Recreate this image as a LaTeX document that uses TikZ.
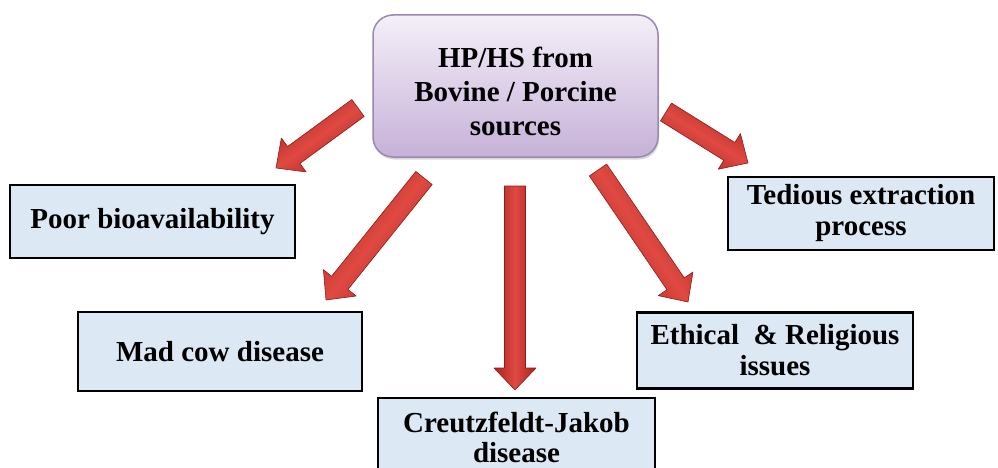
\documentclass[tikz,border=0pt]{standalone}
\usepackage{fontspec}
\setmainfont{Liberation Serif}
\usetikzlibrary{calc,shadows}
\definecolor{boxblue}{HTML}{DCE8F4}
\definecolor{lavtop}{HTML}{F4EFF8}
\definecolor{lavbot}{HTML}{C6B1D8}
\definecolor{lavedge}{HTML}{9A88AE}
\definecolor{arrowedge}{HTML}{8E1C18}
\definecolor{arrowdark}{HTML}{A8231E}
\definecolor{arrowmid}{HTML}{DF4A42}
\tikzset{
  probbox/.style={draw=black, line width=2.2pt, fill=boxblue, inner sep=0pt,
    font=\bfseries\fontsize{29}{31}\selectfont, align=center},
  srcbox/.style={draw=lavedge, line width=1.5pt, top color=lavtop, bottom color=lavbot,
    rounded corners=20pt, inner sep=0pt,
    drop shadow={shadow xshift=1pt, shadow yshift=-2.5pt, opacity=0.3}},
  srctext/.style={inner sep=0pt, align=center, font=\bfseries\fontsize{29}{34}\selectfont},
  redarrow/.style={draw=arrowedge, line width=0.6pt, left color=arrowdark,
    right color=arrowdark, middle color=arrowmid, line join=round}
}
\newcommand\blockarrow[3]{%
  \coordinate (hb) at ($(#2)!22pt!(#1)$);
  \path[redarrow, shading angle=#3]
    ($(#1)!10.5pt!90:(#2)$) -- ($(hb)!10.5pt!90:(#2)$) -- ($(hb)!21pt!90:(#2)$) -- (#2)
    -- ($(hb)!21pt!-90:(#2)$) -- ($(hb)!10.5pt!-90:(#2)$) -- ($(#1)!10.5pt!-90:(#2)$) -- cycle;
}
\begin{document}
\begin{tikzpicture}[x=1pt, y=-1pt]
  \useasboundingbox (0,0) rectangle (998,468);
  \fill[white] (0,0) rectangle (998,468);

  \node[srcbox, minimum width=285pt, minimum height=142pt] (src) at (515.5,86) {};
  \node[srctext] (srct) at (515.5,91) {HP/HS from\\Bovine / Porcine\\sources};

  \node[probbox, minimum width=285pt, minimum height=73pt] (poor) at (152.5,221.5)
    {Poor bioavailability};
  \node[probbox, minimum width=266pt, minimum height=73pt] (ted) at (861,213.5)
    {Tedious extraction\\process};
  \node[probbox, minimum width=284pt, minimum height=79pt] (mad) at (220,351.5)
    {Mad cow disease};
  \node[probbox, minimum width=276pt, minimum height=76pt] (eth) at (775,350.5)
    {Ethical\ \ \& Religious\\issues};
  \node[probbox, minimum width=277pt, minimum height=78pt,
        font=\bfseries\fontsize{29}{30}\selectfont] (cjd) at (516.5,437)
    {Creutzfeldt-Jakob\\disease};

  \coordinate (a1s) at (358,108);  \coordinate (a1e) at (276,168);
  \coordinate (a2s) at (424,178);  \coordinate (a2e) at (326,300);
  \coordinate (a3s) at (515,186);  \coordinate (a3e) at (515,390);
  \coordinate (a4s) at (598,170);  \coordinate (a4e) at (688,302);
  \coordinate (a5s) at (666,112);  \coordinate (a5e) at (748,163);

  \blockarrow{a1s}{a1e}{216.2}
  \blockarrow{a2s}{a2e}{231.2}
  \blockarrow{a3s}{a3e}{-90}
  \blockarrow{a4s}{a4e}{-55.7}
  \blockarrow{a5s}{a5e}{-31.9}
\end{tikzpicture}
\end{document}
